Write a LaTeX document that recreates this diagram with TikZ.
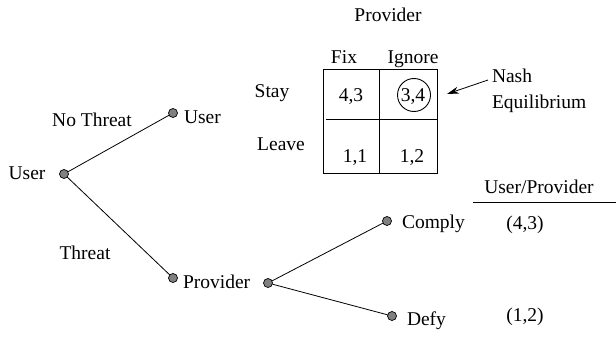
\documentclass[tikz,border=0pt]{standalone}
\usepackage{fontspec}
\setmainfont{Liberation Serif}
\usetikzlibrary{arrows.meta}
\begin{document}
\begin{tikzpicture}[x=1pt,y=-1pt,
  every node/.style={inner sep=0pt,outer sep=0pt},
  txt/.style={anchor=base,font=\fontsize{19.5}{23}\selectfont},
  txtl/.style={anchor=base west,font=\fontsize{19.5}{23}\selectfont},
  dot/.style={circle,draw=black,fill=gray,line width=0.7pt,minimum size=9pt},
  edge/.style={line width=0.8pt},
  grid/.style={line width=0.9pt}]
\useasboundingbox (0,0) rectangle (616,337);

% game tree
\node[dot] (root)  at (64,174) {};
\node[dot] (user)  at (173,113) {};
\node[dot] (prov)  at (173,278) {};
\node[dot] (prov2) at (268,283) {};
\node[dot] (comply) at (387,221) {};
\node[dot] (defy)  at (392,316) {};

\draw[edge] (root) -- (user);
\draw[edge] (root) -- (prov);
\draw[edge] (prov2) -- (comply);
\draw[edge] (prov2) -- (defy);

\node[txt]  (lroot)   at (27,179)  {User};
\node[txtl] (luser)   at (184,124) {User};
\node[txt]  (lnot)    at (92,126)  {No Threat};
\node[txt]  (lthr)    at (85,259)  {Threat};
\node[txtl] (lprov)   at (183,288) {Provider};
\node[txtl] (lcomply) at (402,228) {Comply};
\node[txtl] (ldefy)   at (407,325) {Defy};

% payoff column
\node[txt] (lup) at (539,193) {User/Provider};
\draw[grid] (473,202) -- (616,202);
\node[txt] (p43) at (525,229) {(4,3)};
\node[txt] (p12) at (525,321) {(1,2)};

% normal-form matrix
\node[txt] (lprovtop) at (388,22) {Provider};
\node[txt] (lfix)  at (344,64) {Fix};
\node[txt] (lign)  at (413,64) {Ignore};
\node[txt] (lstay) at (272,98) {Stay};
\node[txt] (lleave) at (281,150) {Leave};

\draw[grid] (323,69) rectangle (437,173);
\draw[grid] (379,69) -- (379,173);
\draw[grid] (326,119) -- (437,119);

\node[txt] (c11) at (351,102) {4,3};
\node[txt] (c12) at (413,102) {3,4};
\node[txt] (c21) at (355,162) {1,1};
\node[txt] (c22) at (412,162) {1,2};
\draw[grid] (414,95) circle (16.5);

% equilibrium callout
\node[txtl] (lnash) at (492,83)  {Nash};
\node[txtl] (lequi) at (492,108) {Equilibrium};
\coordinate (nashtail) at (488,80);
\coordinate (nashtip)  at (447,94);
\draw[edge,-{Stealth[length=12pt,width=7pt]}] (nashtail) -- (nashtip);
\end{tikzpicture}
\end{document}
